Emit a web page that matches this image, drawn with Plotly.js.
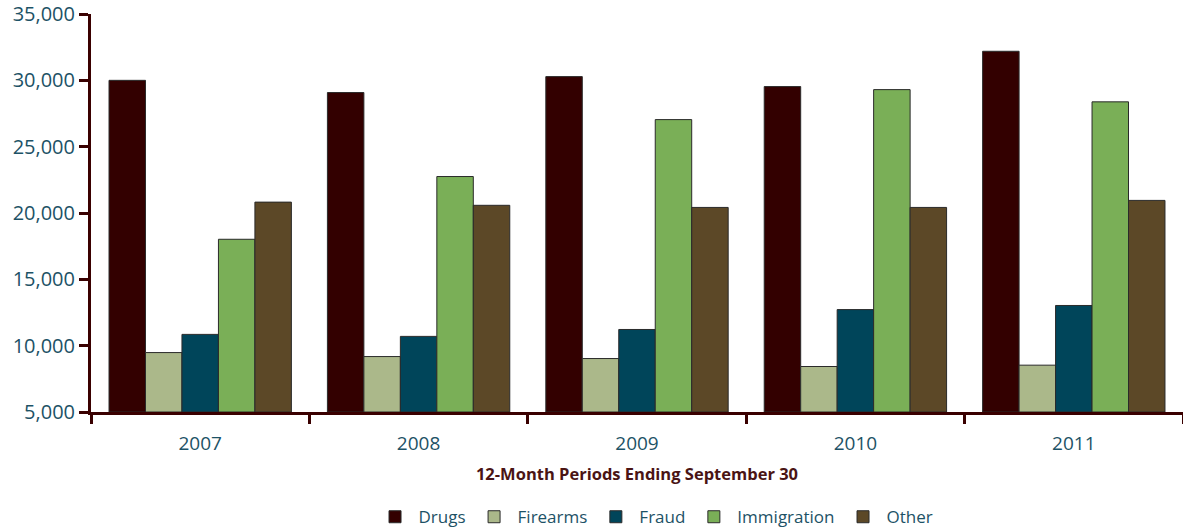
<!DOCTYPE html>
<html>
<head>
<meta charset="utf-8">
<script src="https://cdn.plot.ly/plotly-3.0.1.min.js"></script>
<style>html,body{margin:0;padding:0;background:#fff;}#chart{width:1183px;height:531px;}</style>
</head>
<body>
<div id="chart"></div>
<script>
const years = ["2007", "2008", "2009", "2010", "2011"];
const seriesNames = ["Drugs", "Firearms", "Fraud", "Immigration", "Other"];
const drugs = [30000, 29080, 30280, 29530, 32190];
const firearms = [9480, 9180, 9030, 8430, 8530];
const fraud = [10850, 10700, 11220, 12720, 13030];
const immigration = [18020, 22750, 27040, 29300, 28380];
const other = [20820, 20580, 20420, 20420, 20950];
const colors = ["#330000", "#abb88a", "#00455a", "#7aaf57", "#5c4827"];
const yTickVals = [5000, 10000, 15000, 20000, 25000, 30000, 35000];
const yTickText = ["5,000", "10,000", "15,000", "20,000", "25,000", "30,000", "35,000"];
const baseValue = 5000;

const values = [drugs, firearms, fraud, immigration, other];
const traces = seriesNames.map((name, i) => ({
  type: "bar",
  name: name,
  x: years,
  y: values[i].map(v => v - baseValue),
  base: baseValue,
  marker: { color: colors[i], line: { color: "#2a2a2a", width: 1 } }
}));

const layout = {
  width: 1183, height: 531,
  margin: { l: 91, r: 0, t: 14, b: 119 },
  paper_bgcolor: "#fff", plot_bgcolor: "#fff",
  barmode: "group", bargap: 0.165, bargroupgap: 0,
  font: { family: "Open Sans, sans-serif", color: "#1d5266" },
  xaxis: {
    type: "category",
    showline: true, linecolor: "#3a0000", linewidth: 3,
    ticks: "outside", tickson: "boundaries", ticklen: 9, tickwidth: 3, tickcolor: "#3a0000",
    ticklabelstandoff: 12,
    tickfont: { size: 19, color: "#1d5266" },
    showgrid: false, zeroline: false,
    title: { text: "<b>12-Month Periods Ending September 30</b>", font: { size: 16.5, color: "#4a1414" }, standoff: 14 }
  },
  yaxis: {
    range: [5000, 35000],
    tickvals: yTickVals,
    ticktext: yTickText,
    showline: true, linecolor: "#3a0000", linewidth: 3,
    ticks: "outside", ticklen: 9, tickwidth: 3, tickcolor: "#3a0000",
    tickfont: { size: 20, color: "#1d5266" },
    showgrid: false, zeroline: false
  },
  showlegend: true,
  legend: {
    orientation: "h", x: 0.5165, xanchor: "center", xref: "paper",
    yref: "container", y: 0.026, yanchor: "middle",
    font: { size: 17, color: "#1d5266" }, traceorder: "normal", itemwidth: 37
  }
};

Plotly.newPlot("chart", traces, layout, { displayModeBar: false, staticPlot: true });
</script>
</body>
</html>
